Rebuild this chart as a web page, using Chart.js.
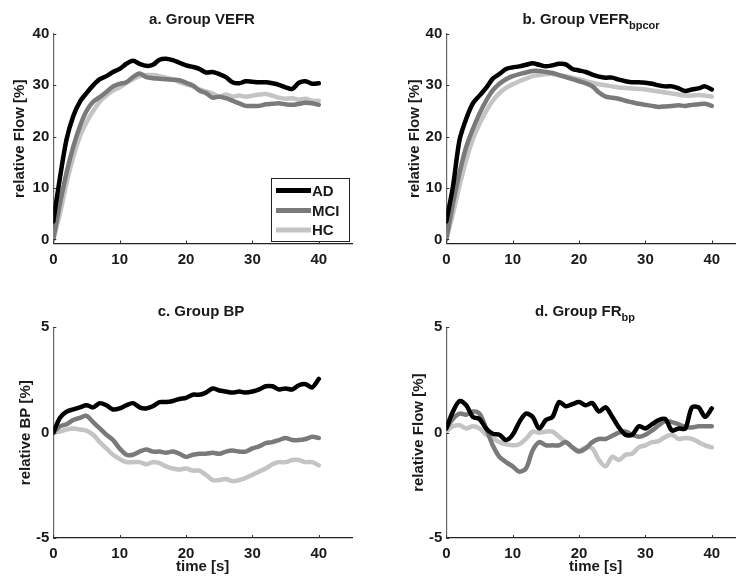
<!DOCTYPE html>
<html>
<head>
<meta charset="utf-8">
<script src="https://cdn.jsdelivr.net/npm/chart.js@4"></script>
<style>
  html, body { margin: 0; padding: 0; background: #fff; overflow: hidden; }
  body { width: 736px; height: 578px; position: relative; }
  canvas { position: absolute; }
</style>
</head>
<body>
<canvas id="chartA" width="368" height="290" style="left:0;top:0"></canvas>
<canvas id="chartB" width="368" height="290" style="left:393px;top:0"></canvas>
<canvas id="chartC" width="368" height="288" style="left:0;top:290px"></canvas>
<canvas id="chartD" width="368" height="288" style="left:393px;top:290px"></canvas>
<script>
// time axis (s), one sample per second
const timeSec = [0,1,2,3,4,5,6,7,8,9,10,11,12,13,14,15,16,17,18,19,20,
                 21,22,23,24,25,26,27,28,29,30,31,32,33,34,35,36,37,38,39,40];
const groups = ['AD', 'MCI', 'HC'];
const groupColors = ['#000000', '#7a7a7a', '#c4c4c4'];

const xTicks = [0, 10, 20, 30, 40];
const flowTicks = [0, 10, 20, 30, 40];
const bpTicks = [-5, 0, 5];

// a. Group VEFR
const vefrAD  = [3.5,12,19.5,24,26.8,28.5,30,31.2,31.8,32.6,33.2,34.2,34.8,34.2,33.8,34.0,35.0,35.2,34.9,34.4,33.9,
                 33.6,33.2,32.5,32.6,32.2,31.6,30.6,30.4,30.8,30.7,30.6,30.6,30.4,30.1,29.6,29.3,30.5,30.8,30.3,30.4];
const vefrMCI = [0,7,13,18,22,25,26.8,27.7,28.7,29.8,30.3,30.6,31.6,32.3,31.6,31.4,31.3,31.2,31.1,31.0,30.5,
                 30.0,29.0,28.5,27.6,27.8,27.5,27.0,26.5,26.0,26.0,26.0,26.3,26.4,26.5,26.3,26.2,26.4,26.6,26.5,26.2];
const vefrHC  = [0,5,11,16,20,22.8,25,26.8,28,29,29.6,30.5,31.2,31.8,32.0,32.0,31.8,31.5,31.2,30.6,30.2,
                 29.8,29.2,28.8,28.4,27.8,28.2,27.8,28.0,27.8,28.0,28.2,28.3,28.0,27.6,27.4,27.5,27.2,27.4,27.0,27.0];

// b. Group VEFR bpcor
const bpcorAD  = [3.5,10.3,19.4,23.5,26.5,28,29.5,31.3,32.2,33.2,33.5,33.7,34,34.3,34,33.7,33.9,34.2,34.1,33.2,32.9,
                  32.6,32.1,31.7,31.5,31.5,31.1,30.8,30.6,30.6,30.5,30.3,30,29.8,29.8,29.4,28.9,29.2,29.4,29.8,29.2];
const bpcorMCI = [0,7,13,18,21.5,24.5,27,29,30.3,31.2,31.8,32.2,32.5,32.8,32.8,32.6,32.4,32.0,31.6,31.2,30.8,
                  30.4,29.8,28.6,27.8,27.6,27.4,27.0,26.7,26.4,26.2,26.0,25.8,25.9,26.0,26.1,26.0,26.2,26.3,26.4,26.0];
const bpcorHC  = [0,5,10.5,15.5,19.5,22.5,25,27,28.5,29.5,30.2,30.8,31.3,31.8,32.0,32.2,32.2,32.0,31.8,31.5,31.2,
                  30.8,30.5,30.2,30.0,29.8,29.6,29.5,29.4,29.3,29.2,29.0,28.8,28.6,28.4,28.2,28.0,28.0,28.1,28.0,27.8];

// c. Group BP
const bpAD  = [0,0.7,1.0,1.1,1.2,1.3,1.2,1.4,1.3,1.1,1.15,1.3,1.4,1.2,1.15,1.25,1.45,1.45,1.5,1.6,1.65,
               1.8,1.8,1.9,2.1,2.0,1.95,1.9,1.95,1.9,1.95,2.05,2.2,2.2,2.05,2.1,2.05,2.25,2.3,2.15,2.55];
const bpMCI = [0,0.3,0.4,0.6,0.7,0.8,0.5,0.2,-0.1,-0.35,-0.75,-1.05,-1.05,-0.9,-0.8,-0.9,-0.9,-0.95,-0.9,-1.0,-1.15,
               -1.05,-1.0,-1.0,-0.95,-1.0,-0.9,-0.85,-0.9,-0.9,-0.75,-0.65,-0.5,-0.45,-0.35,-0.25,-0.35,-0.35,-0.3,-0.2,-0.25];
const bpHC  = [0,0.05,0.15,0.2,0.15,0.1,-0.1,-0.45,-0.75,-1.05,-1.25,-1.4,-1.4,-1.4,-1.5,-1.4,-1.45,-1.6,-1.7,-1.75,-1.7,
               -1.8,-1.8,-2.0,-2.25,-2.25,-2.2,-2.3,-2.25,-2.15,-2.0,-1.85,-1.7,-1.5,-1.4,-1.4,-1.3,-1.3,-1.4,-1.4,-1.55];

// d. Group FR bp
const frbpAD  = [0.2,1.0,1.5,1.3,0.75,0.65,0.2,-0.05,-0.1,-0.35,-0.1,0.5,0.9,0.75,0.2,0.6,0.75,1.45,1.25,1.35,1.45,
                 1.3,1.4,1.0,1.2,0.75,0.25,-0.1,-0.1,0.3,0.2,0.4,0.6,0.65,0.1,0.2,0.2,1.2,1.2,0.75,1.15];
const frbpMCI = [0.2,0.65,0.9,0.85,1.0,0.9,0.2,-0.6,-1.15,-1.4,-1.6,-1.85,-1.7,-0.85,-0.45,-0.6,-0.6,-0.6,-0.45,-0.7,-0.9,
                 -0.75,-0.45,-0.3,-0.3,-0.15,0,0.05,-0.1,-0.2,-0.1,0.1,0.35,0.55,0.5,0.4,0.25,0.25,0.3,0.3,0.3];
const frbpHC  = [0.05,0.3,0.35,0.2,0.3,0.2,-0.1,-0.25,-0.45,-0.55,-0.6,-0.55,-0.3,0.05,0,0.05,0.05,-0.2,-0.45,-0.7,-0.85,
                 -0.7,-0.75,-1.3,-1.6,-1.15,-1.3,-1.05,-1.0,-0.7,-0.6,-0.45,-0.4,-0.2,-0.1,-0.3,-0.25,-0.3,-0.45,-0.6,-0.7];

const FONT = '"Liberation Sans", Arial, Helvetica, sans-serif';

// titles (with subscript), inward tick marks and the legend box
const panelDecor = {
  id: 'panelDecor',
  afterDraw(chart, args, opts) {
    const { ctx, chartArea, scales } = chart;
    ctx.save();
    ctx.strokeStyle = '#333';
    ctx.lineWidth = 1;
    ctx.beginPath();
    scales.x.ticks.forEach(t => {
      const px = Math.round(scales.x.getPixelForValue(t.value)) + 0.5;
      ctx.moveTo(px, chartArea.bottom);
      ctx.lineTo(px, chartArea.bottom - 3);
    });
    scales.y.ticks.forEach(t => {
      const py = Math.round(scales.y.getPixelForValue(t.value)) + 0.5;
      ctx.moveTo(chartArea.left, py);
      ctx.lineTo(chartArea.left + 3, py);
    });
    ctx.stroke();

    ctx.fillStyle = '#1a1a1a';
    ctx.textBaseline = 'alphabetic';
    ctx.textAlign = 'left';
    ctx.font = 'bold 15px ' + FONT;
    const mainW = ctx.measureText(opts.main).width;
    ctx.font = 'bold 11px ' + FONT;
    const subW = opts.sub ? ctx.measureText(opts.sub).width : 0;
    const x0 = opts.centerX - (mainW + subW) / 2;
    ctx.font = 'bold 15px ' + FONT;
    ctx.fillText(opts.main, x0, opts.baseline);
    if (opts.sub) {
      ctx.font = 'bold 11px ' + FONT;
      ctx.fillText(opts.sub, x0 + mainW, opts.baseline + 5);
    }

    if (opts.legend) {
      const box = opts.legend;
      ctx.fillStyle = '#fff';
      ctx.fillRect(box.left, box.top, box.right - box.left, box.bottom - box.top);
      ctx.strokeStyle = '#222';
      ctx.lineWidth = 1;
      ctx.strokeRect(box.left + 0.5, box.top + 0.5, box.right - box.left, box.bottom - box.top);
      ctx.font = 'bold 15px ' + FONT;
      ctx.textBaseline = 'middle';
      chart.data.datasets.forEach((ds, i) => {
        const ry = box.rows[i];
        ctx.strokeStyle = ds.borderColor;
        ctx.lineWidth = 5;
        ctx.beginPath();
        ctx.moveTo(box.left + 5, ry);
        ctx.lineTo(box.left + 40, ry);
        ctx.stroke();
        ctx.fillStyle = '#1a1a1a';
        ctx.fillText(ds.label, box.left + 41, ry + 1);
      });
    }
    ctx.restore();
  }
};

function makePanel(id, series, cfg) {
  const datasets = series.map((vals, i) => ({
    label: groups[i],
    data: timeSec.map((t, k) => ({ x: t, y: vals[k] })),
    borderColor: groupColors[i],
    borderWidth: 4.5,
    pointRadius: 0,
    tension: 0.3,
    borderCapStyle: 'round',
    borderJoinStyle: 'round',
    fill: false
  }));
  return new Chart(document.getElementById(id), {
    type: 'line',
    data: { datasets },
    plugins: [panelDecor],
    options: {
      responsive: false,
      animation: false,
      layout: { padding: { top: cfg.top, right: 16, left: 0, bottom: 0 } },
      plugins: {
        legend: { display: false },
        tooltip: { enabled: false },
        panelDecor: cfg.decor
      },
      scales: {
        x: {
          type: 'linear',
          min: 0,
          max: 45,
          afterBuildTicks: s => { s.ticks = xTicks.map(v => ({ value: v })); },
          afterFit: s => { s.height = cfg.xHeight; },
          grid: { drawOnChartArea: false, drawTicks: false },
          border: { display: true, color: '#222', width: 1.2 },
          ticks: { color: '#1a1a1a', padding: 7, font: { family: FONT, size: 15, weight: 'bold' }, maxRotation: 0 },
          title: cfg.xTitle ? {
            display: true, text: cfg.xTitle, color: '#1a1a1a',
            font: { family: FONT, size: 15, weight: 'bold' }, padding: { top: 0, bottom: 2 }
          } : { display: false }
        },
        y: {
          min: cfg.yMin,
          max: cfg.yMax,
          afterBuildTicks: s => { s.ticks = cfg.yTicks.map(v => ({ value: v })); },
          afterFit: s => { s.width = 53.3; },
          grid: { drawOnChartArea: false, drawTicks: false },
          border: { display: true, color: '#666', width: 1.2 },
          ticks: { color: '#1a1a1a', padding: 4, font: { family: FONT, size: 15, weight: 'bold' } },
          title: {
            display: true, text: cfg.yTitle, color: '#1a1a1a',
            font: { family: FONT, size: 15, weight: 'bold' }, padding: { top: cfg.yTitlePad, bottom: 0 }
          }
        }
      }
    }
  });
}

makePanel('chartA', [vefrAD, vefrMCI, vefrHC], {
  top: 34, xHeight: 46.5, yMin: -0.8, yMax: 40, yTicks: flowTicks,
  yTitle: 'relative Flow [%]', yTitlePad: 10.6,
  decor: {
    main: 'a. Group VEFR', sub: '', centerX: 202, baseline: 24,
    legend: { left: 271, top: 178, right: 349, bottom: 241, rows: [190.5, 210.5, 230] }
  }
});
makePanel('chartB', [bpcorAD, bpcorMCI, bpcorHC], {
  top: 34, xHeight: 46.5, yMin: -0.8, yMax: 40, yTicks: flowTicks,
  yTitle: 'relative Flow [%]', yTitlePad: 12.6,
  decor: { main: 'b. Group VEFR', sub: 'bpcor', centerX: 591 - 393, baseline: 24 }
});
makePanel('chartC', [bpAD, bpMCI, bpHC], {
  top: 37.3, xHeight: 40, yMin: -5, yMax: 5, yTicks: bpTicks,
  yTitle: 'relative BP [%]', yTitlePad: 16.6, xTitle: 'time [s]',
  decor: { main: 'c. Group BP', sub: '', centerX: 201, baseline: 26 }
});
makePanel('chartD', [frbpAD, frbpMCI, frbpHC], {
  top: 37.3, xHeight: 40, yMin: -5, yMax: 5, yTicks: bpTicks,
  yTitle: 'relative Flow [%]', yTitlePad: 16.6, xTitle: 'time [s]',
  decor: { main: 'd. Group FR', sub: 'bp', centerX: 585 - 393, baseline: 26 }
});
</script>
</body>
</html>
